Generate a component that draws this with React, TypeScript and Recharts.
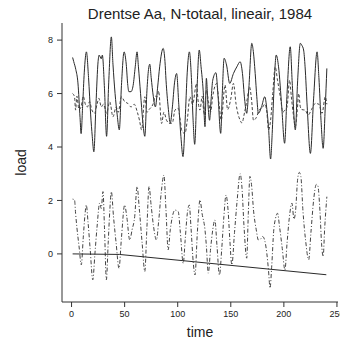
import React from 'react';
import { LineChart, Line, XAxis, YAxis } from 'recharts';

const title = 'Drentse Aa, N-totaal, lineair, 1984';
const xLabel = 'time';
const yLabel = 'load';
const xTicks = [0, 50, 100, 150, 200, 250];
const yTicks = [0, 2, 4, 6, 8];

const upperSolid: [number, number][] = [
  [1,7.35],[2,7.2],[4,6.9],[6,6.4],[8,5.1],[9,4.5],[10.5,5.6],[12,6.8],[14,7.56],[16,6.6],[18,5.2],[19.5,4.4],[21,3.82],[23,5.6],[25,7.2],[26,7.44],[28,7.3],[29,7.44],[31,6.2],[33,4.4],[35,6.4],[37.5,8.12],[39,7.1],[41,6.0],[43,5.2],[45,4.64],[47,6.3],[49.5,7.56],[51.5,7.1],[53,6.3],[54,6.07],[56,6.07],[58,6.3],[60,7.0],[61.7,7.56],[63,7.0],[65,6.0],[67,5.0],[69,4.4],[71,6.1],[72.5,6.9],[73.7,7.1],[75,6.6],[77,5.9],[79,5.5],[81,6.2],[83,7.0],[86.3,7.69],[88,7.2],[89,6.5],[91,5.5],[93,4.9],[95,5.5],[97,6.4],[99,6.75],[101,5.6],[103,4.4],[105,3.64],[107,5.0],[109,6.8],[111,7.56],[113,6.5],[114.5,5.0],[116,4.1],[118,6.0],[120.3,7.63],[122,7.0],[124,6.1],[125.7,4.76],[127,6.57],[128.5,5.6],[130,5.0],[131.5,5.8],[133,6.5],[136,6.78],[138,5.9],[140.5,4.51],[142,6.0],[143.7,7.32],[146,7.07],[149,6.38],[152.5,6.75],[155.7,7.0],[158.8,7.19],[161,6.75],[163,5.8],[165,5.26],[167,6.2],[169.8,7.88],[171,7.65],[173,6.75],[174.5,5.88],[176,5.26],[179,5.51],[182,5.88],[184,5.4],[185.5,4.76],[187.5,3.55],[189,4.5],[190.5,6.0],[192.8,7.44],[195,7.0],[198,5.5],[200.7,4.14],[203,6.0],[206,7.75],[208,6.3],[210.8,4.64],[213,6.5],[215.5,7.88],[217,7.8],[218.6,7.63],[220,7.0],[222,5.5],[225,3.76],[228,5.8],[231.3,7.56],[233,6.6],[235,5.0],[237,3.95],[239,5.5],[240.5,6.94]
];

const upperDashed: [number, number][] = [
  [1,6.0],[2.8,5.88],[3.8,5.38],[5,5.9],[7,5.4],[9,5.5],[11,5.9],[13,5.6],[15,5.5],[17,5.7],[19,5.4],[21.7,5.26],[24,5.6],[25.8,5.82],[28,5.5],[30,5.6],[33,5.26],[36,5.69],[39,5.13],[42,5.5],[44,5.3],[47,5.88],[50,5.7],[53,5.63],[56,5.5],[59,5.6],[62,5.3],[64,5.0],[66,4.64],[69,5.88],[71,5.3],[73,5.4],[77,5.63],[79,5.9],[80.7,5.88],[82,6.1],[84.8,4.88],[87,5.3],[89.5,5.0],[92.6,4.88],[95,4.9],[97.4,5.38],[100.5,5.45],[102,5.1],[104,4.6],[106.8,4.5],[109,5.0],[111.5,5.88],[114,5.6],[117.8,6.38],[119,5.8],[121,5.38],[123,5.9],[125,5.2],[127,6.13],[129,5.7],[131,5.3],[133,5.9],[136.7,6.38],[139,5.6],[141,5.0],[144.6,6.32],[147,5.4],[150,5.8],[152.5,6.38],[155,5.6],[158.8,5.0],[160.5,4.9],[163,5.3],[165.5,5.8],[167.6,6.25],[169.5,5.8],[171.4,5.0],[174,5.1],[177,5.4],[179.3,5.45],[182,5.6],[184,5.3],[185.5,4.64],[187.5,5.0],[189.5,6.0],[191.9,7.0],[194,6.5],[197,5.8],[199,5.3],[201,5.38],[203,5.5],[205.4,6.5],[207,5.9],[209,5.2],[210.8,4.76],[212.5,5.3],[214,6.0],[215.5,5.5],[217,5.4],[220,5.38],[223,5.2],[226,5.4],[229.7,5.63],[233,5.6],[236,5.26],[239,5.88],[240.5,5.6]
];

const lowerDashDot: [number, number][] = [
  [1,2.05],[2.8,2.02],[3.8,1.52],[5,1.0],[7,0.3],[9.2,-0.41],[11,0.6],[12.5,1.4],[13.9,1.83],[15.5,1.2],[17.5,0.2],[20,-0.97],[22,0.0],[24,1.0],[26.5,1.9],[28,1.7],[29.6,2.33],[31,1.0],[32.8,-0.97],[34.5,0.4],[36,1.6],[37.5,2.33],[39.5,1.4],[42,0.4],[44.7,-0.54],[47,0.6],[50,1.83],[52,1.4],[54.8,0.52],[57,0.9],[59.5,1.4],[61.7,2.52],[64,1.6],[66.5,0.4],[69,-0.66],[71,1.0],[73,2.52],[75,1.8],[77,1.1],[80,0.52],[82,1.2],[84.5,2.3],[87,2.95],[89,1.6],[91,0.15],[93,0.9],[95,1.4],[97.4,1.64],[100.5,1.58],[102.5,0.8],[105.2,-0.35],[107,0.5],[109,1.5],[110.9,1.83],[112.5,1.0],[114.7,-0.35],[116.3,-0.79],[118.5,0.8],[121,2.02],[123,1.5],[125.7,0.9],[127,0.3],[128.8,-0.72],[131,0.2],[133,0.9],[135,1.27],[137,0.3],[139.3,-0.79],[141.5,0.2],[143.5,1.4],[145.5,2.2],[147.5,1.6],[149,0.6],[151,-0.41],[153.5,0.8],[156,2.0],[158.8,3.0],[160.5,2.5],[162.5,1.0],[165,-0.16],[166.5,1.5],[168,2.9],[169.5,2.6],[171.5,1.6],[174,0.9],[176,0.52],[178,0.55],[180,0.65],[182,0.5],[184,0.0],[185.5,-0.6],[187,-1.28],[188.5,-0.5],[190.5,0.9],[192,1.3],[194,1.52],[196,1.0],[198.5,0.2],[201,-0.6],[203,0.4],[205,1.3],[207.6,1.9],[209.5,1.3],[211,1.6],[213,2.8],[214.5,3.05],[216,2.9],[218,1.6],[220.5,0.5],[223.4,-0.22],[225.5,0.8],[228,2.0],[230.6,2.6],[232,2.55],[234,1.6],[235.5,0.4],[237,-0.1],[238.5,1.0],[240.5,2.14]
];

const trendLine: [number, number][] = [
  [1,0.0],[45,-0.02],[240,-0.78]
];

const toRows = (arr: [number, number][]) => arr.map(([t, v]) => ({ t, v }));

const FONT = '"Liberation Sans", Arial, sans-serif';
const INK = '#222';

export default function App() {
  return (
    <div style={{ position: 'relative', left: -8, top: -8, width: 348, height: 338, background: '#fff' }}>
      <LineChart width={348} height={338} margin={{ top: 23, right: 10, bottom: 0, left: 22 }}>
        <XAxis
          type="number"
          dataKey="t"
          domain={[-9, 251]}
          ticks={xTicks}
          allowDataOverflow
          height={36}
          tickSize={5}
          tickMargin={4}
          stroke="#333"
          tick={{ fontSize: 9, fill: INK, fontFamily: FONT }}
        />
        <YAxis
          type="number"
          domain={[-1.8, 8.64]}
          ticks={yTicks}
          allowDataOverflow
          width={40}
          tickSize={5}
          tickMargin={4}
          stroke="#333"
          tick={{ fontSize: 9, fill: INK, fontFamily: FONT }}
        />
        <Line data={toRows(upperSolid)} dataKey="v" type="monotone" stroke="#2a2a2a" strokeWidth={1} dot={false} isAnimationActive={false} />
        <Line data={toRows(upperDashed)} dataKey="v" type="monotone" stroke="#444" strokeWidth={1} strokeDasharray="3 2" dot={false} isAnimationActive={false} />
        <Line data={toRows(lowerDashDot)} dataKey="v" type="monotone" stroke="#444" strokeWidth={1} strokeDasharray="1 2 4 2" dot={false} isAnimationActive={false} />
        <Line data={toRows(trendLine)} dataKey="v" type="linear" stroke="#2a2a2a" strokeWidth={1} dot={false} isAnimationActive={false} />
      </LineChart>
      <svg width={348} height={338} style={{ position: 'absolute', left: 0, top: 0, pointerEvents: 'none' }}>
        <text x={200} y={18.5} textAnchor="middle" fontSize={15} fontFamily={FONT} fill={INK}>{title}</text>
        <text x={200} y={336.5} textAnchor="middle" fontSize={14} fontFamily={FONT} fill={INK}>{xLabel}</text>
        <text x={26} y={162.5} textAnchor="middle" fontSize={14} fontFamily={FONT} fill={INK} transform="rotate(-90 26 162.5)">{yLabel}</text>
      </svg>
    </div>
  );
}
